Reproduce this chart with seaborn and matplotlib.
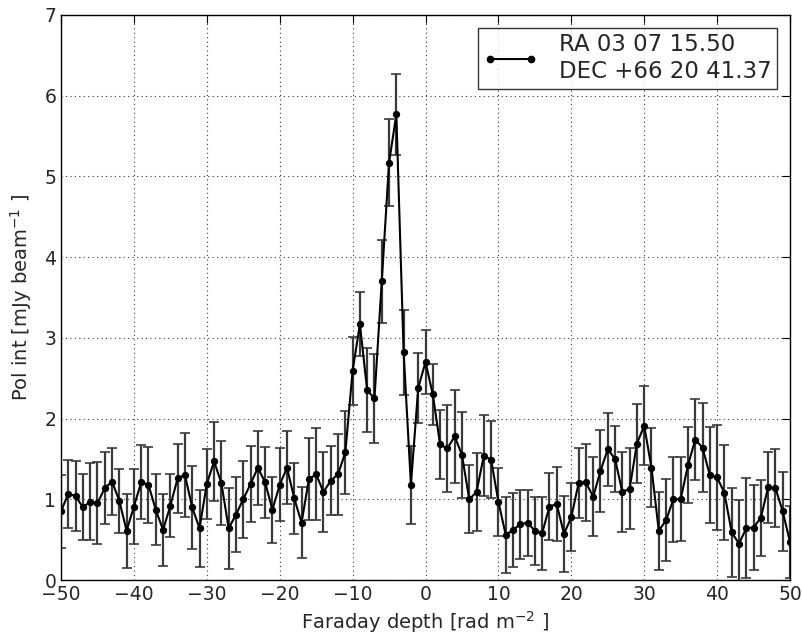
import numpy as np
import pandas as pd
import matplotlib
matplotlib.use("Agg")
import matplotlib.pyplot as plt
import seaborn as sns
from matplotlib.lines import Line2D

phi = list(range(-50, 51))
pol = [0.85, 1.07, 1.04, 0.90, 0.97, 0.95, 1.14, 1.22, 0.98, 0.61,
       0.91, 1.21, 1.18, 0.87, 0.62, 0.92, 1.26, 1.30, 0.90, 0.64,
       1.19, 1.47, 1.20, 0.64, 0.81, 1.00, 1.19, 1.39, 1.21, 0.87,
       1.18, 1.39, 1.01, 0.71, 1.25, 1.31, 1.09, 1.23, 1.31, 1.58,
       2.59, 3.17, 2.35, 2.25, 3.70, 5.17, 5.77, 2.82, 1.18, 2.38,
       2.70, 2.30, 1.68, 1.63, 1.78, 1.55, 1.00, 1.09, 1.54, 1.49,
       0.97, 0.56, 0.62, 0.69, 0.71, 0.61, 0.58, 0.91, 0.94, 0.57,
       0.78, 1.20, 1.21, 1.03, 1.35, 1.62, 1.50, 1.09, 1.13, 1.69,
       1.91, 1.39, 0.61, 0.74, 1.00, 1.00, 1.42, 1.74, 1.64, 1.30,
       1.27, 1.08, 0.59, 0.45, 0.64, 0.65, 0.77, 1.15, 1.14, 0.85,
       0.47]
err = [0.45, 0.42, 0.43, 0.41, 0.48, 0.51, 0.44, 0.41, 0.40, 0.46,
       0.47, 0.46, 0.47, 0.44, 0.45, 0.39, 0.43, 0.52, 0.51, 0.48,
       0.43, 0.49, 0.52, 0.50, 0.46, 0.48, 0.47, 0.46, 0.44, 0.41,
       0.45, 0.45, 0.44, 0.44, 0.51, 0.57, 0.49, 0.43, 0.50, 0.51,
       0.42, 0.40, 0.52, 0.55, 0.51, 0.54, 0.50, 0.53, 0.48, 0.43,
       0.40, 0.38, 0.43, 0.54, 0.58, 0.53, 0.42, 0.48, 0.50, 0.48,
       0.42, 0.47, 0.46, 0.43, 0.41, 0.42, 0.45, 0.42, 0.46, 0.47,
       0.42, 0.43, 0.48, 0.49, 0.51, 0.45, 0.41, 0.50, 0.50, 0.49,
       0.49, 0.49, 0.48, 0.51, 0.53, 0.52, 0.47, 0.50, 0.55, 0.59,
       0.65, 0.59, 0.55, 0.54, 0.62, 0.53, 0.47, 0.44, 0.48, 0.49,
       0.45]
label = "RA 03 07 15.50\nDEC +66 20 41.37"

df = pd.DataFrame({"phi": phi, "pol": pol, "err": err})

sns.set_style("white")
plt.rcParams["font.family"] = ["DejaVu Sans"]
plt.rcParams["xtick.direction"] = "in"
plt.rcParams["ytick.direction"] = "in"

fig = plt.figure(figsize=(8.02, 6.34), dpi=100)
ax = fig.add_axes([61/802, 54/634, 729/802, 565/634])

ax.errorbar(df["phi"], df["pol"], yerr=df["err"], fmt="none",
            ecolor="#3a3a3a", elinewidth=1.6, capsize=3.5, capthick=1.2, zorder=2)
sns.lineplot(data=df, x="phi", y="pol", ax=ax, color="black", lw=1.5,
             marker="o", markersize=4.5, markeredgecolor="black",
             estimator=None, zorder=3, legend=False)

ax.set_xlim(-50, 50)
ax.set_ylim(0, 7)
ax.set_xticks(range(-50, 51, 10))
ax.set_yticks(range(0, 8))
ax.grid(True, color="black", linestyle=(0, (1, 3)), linewidth=0.8, alpha=0.8)
for s in ax.spines.values():
    s.set_color("black")
    s.set_linewidth(1.0)
ax.tick_params(axis="both", which="both", top=True, right=True, length=6,
               width=0.8, color="black", labelsize=13.5)

ax.set_xlabel("Faraday depth [rad m$^{-2}$ ]", fontsize=14)
ax.set_ylabel("Pol int [mJy beam$^{-1}$ ]", fontsize=14, labelpad=7)

handle = Line2D([], [], color="black", lw=1.5, marker="o", markersize=4.5)
leg = ax.legend([handle], [label], loc="upper right", fontsize=16.5,
                frameon=True, fancybox=False, numpoints=2, handlelength=2.4,
                borderpad=0.25, labelspacing=0.2, handletextpad=0.9,
                borderaxespad=0.55)
leg.get_frame().set_edgecolor("black")
leg.get_frame().set_linewidth(1.0)

fig.savefig("out.png", dpi=100)
